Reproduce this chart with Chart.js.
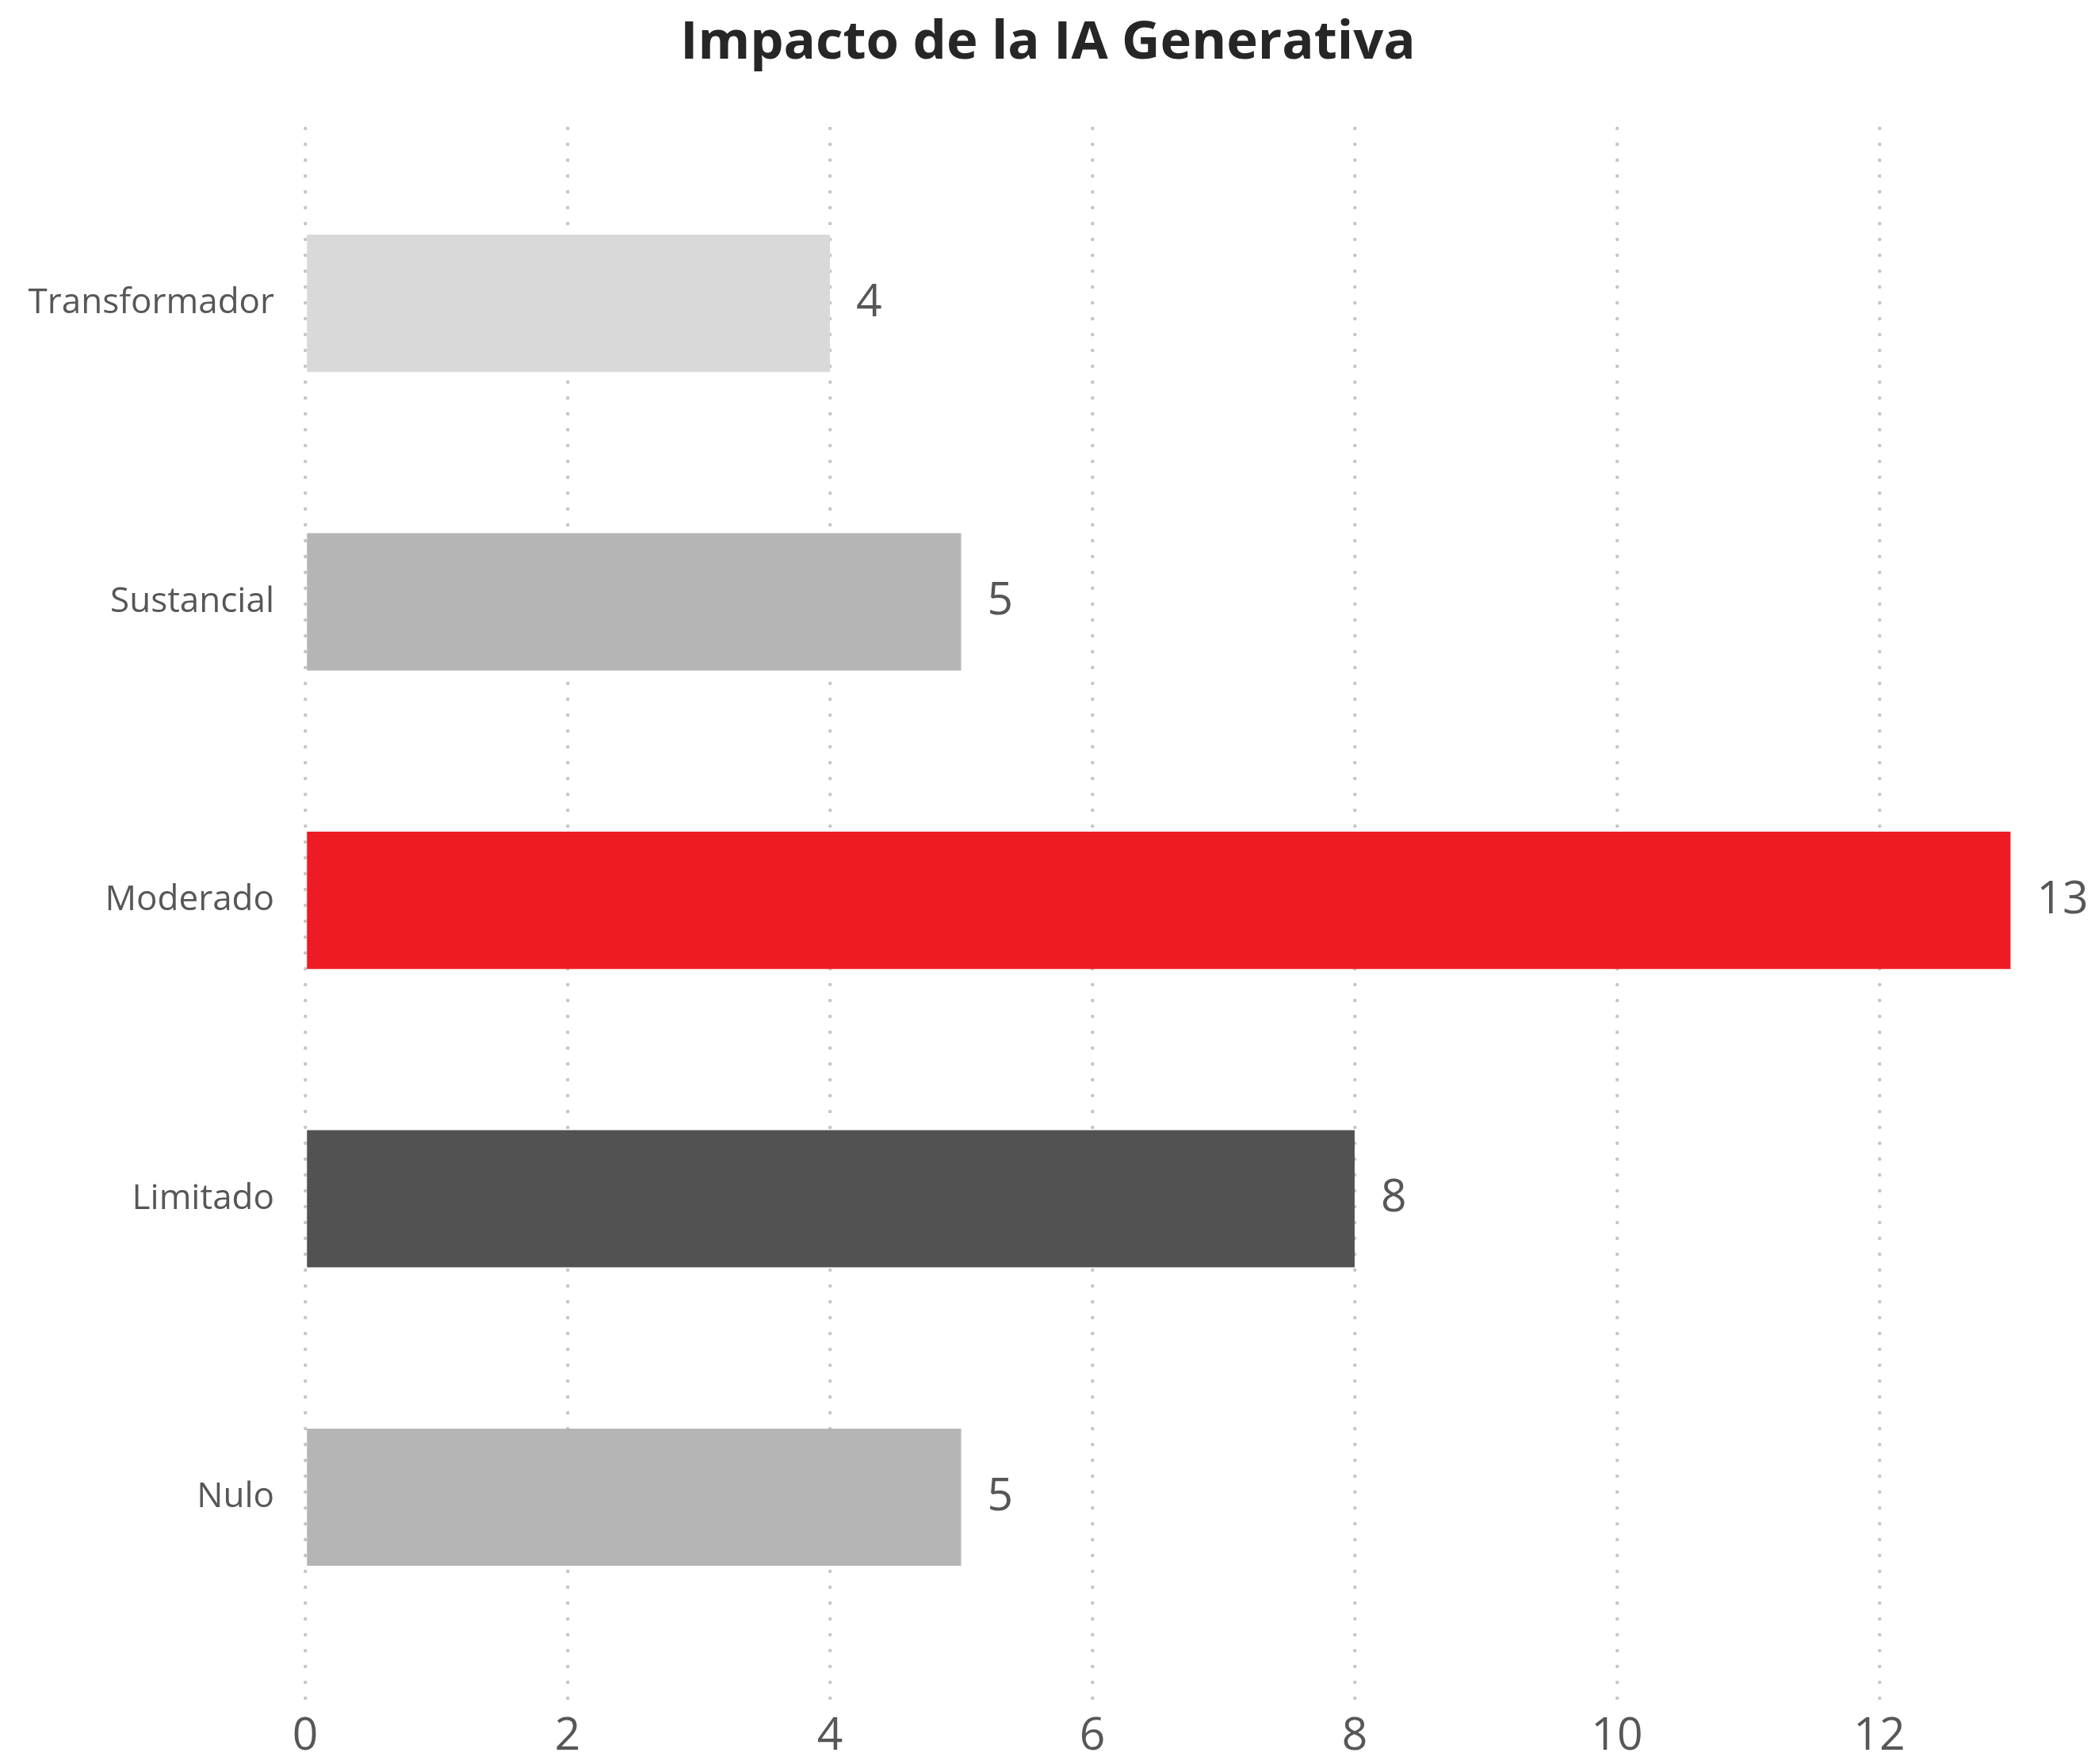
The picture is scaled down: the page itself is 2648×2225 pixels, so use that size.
<!DOCTYPE html>
<html>
<head>
<meta charset="utf-8">
<script src="https://cdn.jsdelivr.net/npm/chart.js@4.4.1/dist/chart.umd.min.js"></script>
<style>
    html, body { margin: 0; padding: 0; background: #ffffff; }
    #wrap { width: 2648px; height: 2225px; }
</style>
</head>
<body>
<div id="wrap"><canvas id="impacto"></canvas></div>
<script>
// bottom to top, like the original plot
const categories = ["Nulo", "Limitado", "Moderado", "Sustancial", "Transformador"];
const counts = [5, 8, 13, 5, 4];
const barColors = ["#b5b5b5", "#525252", "#ed1c24", "#b5b5b5", "#d9d9d9"];
const xTicks = [0, 2, 4, 6, 8, 10, 12];

const FONT = "'Open Sans', 'Noto Sans', sans-serif";
const TEXT_GREY = "#575757";

// value labels to the right of each bar
const valueLabels = {
    id: "valueLabels",
    afterDatasetsDraw(chart) {
        const ctx = chart.ctx;
        const xs = chart.scales.x;
        const ys = chart.scales.y;
        ctx.save();
        ctx.font = "57px " + FONT;
        ctx.fillStyle = TEXT_GREY;
        ctx.textAlign = "left";
        ctx.textBaseline = "middle";
        counts.forEach((v, i) => {
            ctx.fillText(String(v), xs.getPixelForValue(v + 0.2), ys.getPixelForValue(i));
        });
        ctx.restore();
    },
};

// round caps so the dashed grid becomes dots
const roundCaps = {
    id: "roundCaps",
    beforeDraw(chart) {
        chart.ctx.lineCap = "round";
    },
};

const data = {
    datasets: [
        {
            label: "Impacto",
            data: counts.map((v, i) => ({ x: v, y: i })),
            backgroundColor: barColors,
            borderWidth: 0,
            categoryPercentage: 1,
            barPercentage: 0.46,
        },
    ],
};

const config = {
    type: "bar",
    data: data,
    options: {
        indexAxis: "y",
        responsive: true,
        maintainAspectRatio: false,
        animation: false,
        layout: { padding: { left: 0, right: 4, top: 0, bottom: 0 } },
        plugins: {
            legend: { display: false },
            tooltip: { enabled: false },
            title: {
                display: true,
                text: "Impacto de la IA Generativa",
                color: "#262626",
                font: { family: FONT, size: 67, weight: "bold", lineHeight: 1.2 },
                padding: { top: 15, bottom: 66.6 },
            },
        },
        scales: {
            x: {
                type: "linear",
                min: 0,
                max: 13.65,
                afterBuildTicks: (scale) => {
                    scale.ticks = xTicks.map((v) => ({ value: v }));
                },
                afterFit: (scale) => {
                    scale.height = 82;
                },
                border: { display: false, dash: [0, 20] },
                grid: {
                    drawTicks: false,
                    color: "#c6c6c6",
                    lineWidth: 4.5,
                },
                ticks: {
                    padding: 14,
                    color: TEXT_GREY,
                    font: { family: FONT, size: 57 },
                },
            },
            y: {
                type: "linear",
                offset: false,
                min: -0.676,
                max: 4.586,
                afterBuildTicks: (scale) => {
                    scale.ticks = categories.map((c, i) => ({ value: i }));
                },
                afterFit: (scale) => {
                    scale.width = 385;
                },
                border: { display: false },
                grid: { display: false, drawTicks: false },
                ticks: {
                    padding: 39,
                    color: TEXT_GREY,
                    font: { family: FONT, size: 44 },
                    callback: (v) => categories[v],
                },
            },
        },
    },
    plugins: [roundCaps, valueLabels],
};

const impactoChart = new Chart(document.getElementById("impacto"), config);
</script>
</body>
</html>
